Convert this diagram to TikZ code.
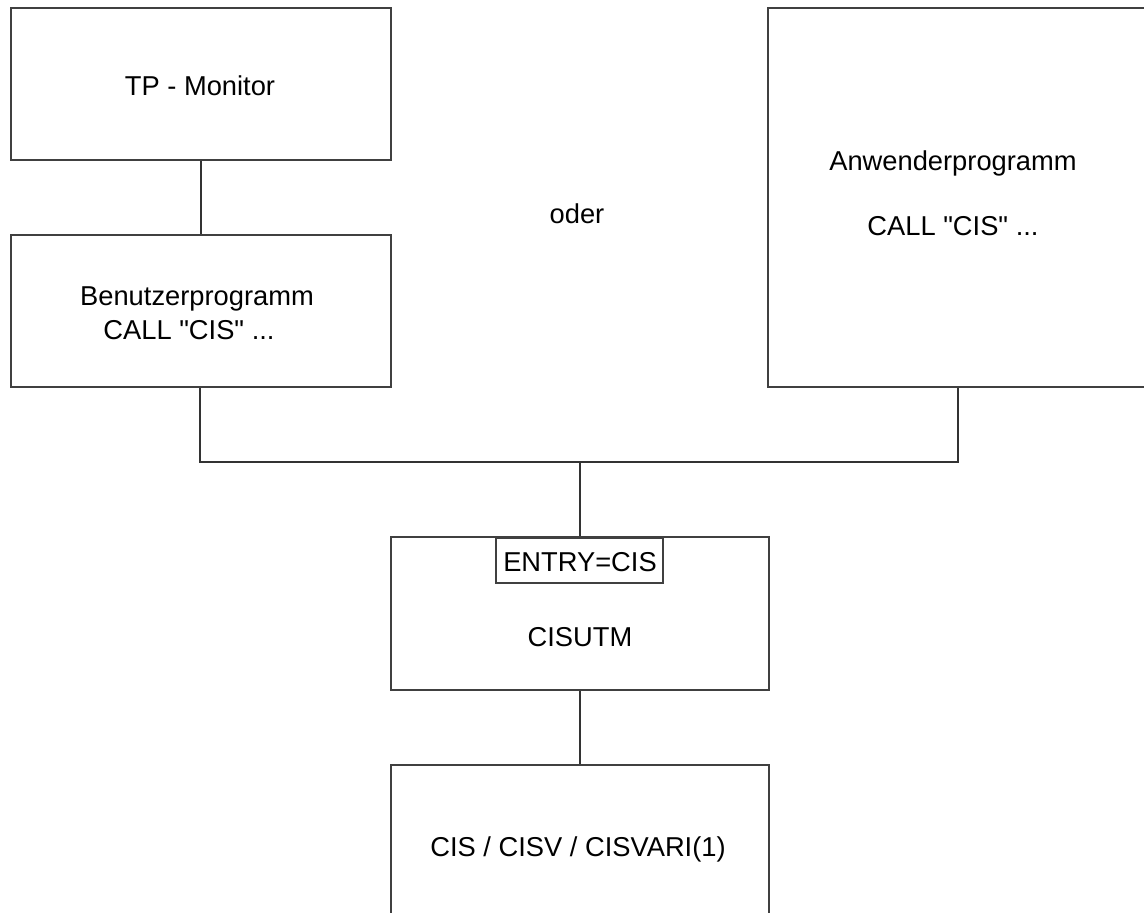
\documentclass[tikz,border=0pt]{standalone}
\usepackage{fontspec}
\setmainfont{Liberation Sans}[Ligatures=TeXOff]
\begin{document}
\begin{tikzpicture}[x=1pt,y=-1pt,
  frame/.style={draw=black!75,line width=1.2pt,inner sep=0pt,rectangle},
  wire/.style={draw=black!80,line width=1.1pt},
  txt/.style={inner sep=0pt,anchor=base,font=\fontsize{27.3}{33}\selectfont}]
\useasboundingbox (0,0) rectangle (1144,913);
\clip (0,0) rectangle (1144,913);
\fill[white] (0,0) rectangle (1144,913);

% boxes (x1..x2, y1..y2 in pixel-like units)
\node[frame,minimum width=380pt,minimum height=152pt] (tp)   at (201,84) {};
\node[frame,minimum width=380pt,minimum height=152pt] (benu) at (201,311) {};
\node[frame,minimum width=440pt,minimum height=379pt] (anw)  at (988,197.5) {};
\node[frame,minimum width=378pt,minimum height=153pt] (utm)  at (580,613.5) {};
\node[frame,minimum width=167pt,minimum height=45pt]  (entry) at (579.5,560.5) {};
\node[frame,minimum width=378pt,minimum height=260pt] (cis)  at (580,895) {};

% texts
\node[txt] (tptxt)   at (200,95)    {TP - Monitor};
\node[txt] (benutxt) at (197,305)   {Benutzerprogramm};
\node[txt] (calll)   at (189,339)   {CALL "CIS" ...};
\node[txt] (oder)    at (577,223)   {oder};
\node[txt] (anwtxt)  at (953,170)   {Anwenderprogramm};
\node[txt] (callr)   at (953,235)   {CALL "CIS" ...};
\node[txt] (entrytxt) at (580,571.7) {ENTRY=CIS};
\node[txt] (utmtxt)  at (580,646.7) {CISUTM};
\node[txt] (cistxt)  at (578,856.7) {CIS / CISV / CISVARI(1)};

% connectors
\coordinate (jl) at (200,462);
\coordinate (jr) at (958,462);
\coordinate (jm) at (580,462);
\draw[wire] (tp.south) -- (benu.south |- benu.north);
\draw[wire] (benu.south -| jl) -- (jl) -- (jr) -- (jr |- anw.south);
\draw[wire] (jm) -- (utm.north);
\draw[wire] (utm.south) -- (cis.north);
\end{tikzpicture}
\end{document}
